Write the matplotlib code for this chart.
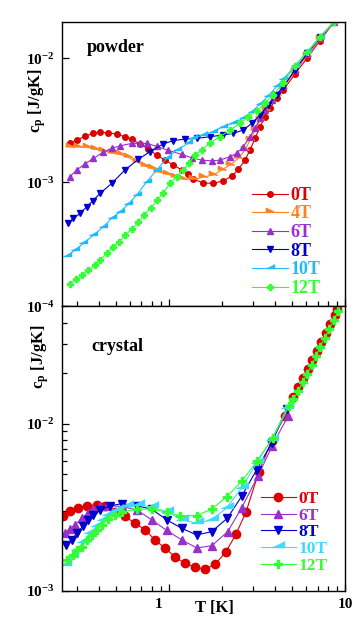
import matplotlib
matplotlib.use("Agg")
import matplotlib.pyplot as plt
from matplotlib.ticker import LogLocator, LogFormatterSciNotation, NullFormatter, FixedLocator
from matplotlib.transforms import ScaledTranslation

plt.rcParams['font.family'] = ['Liberation Serif', 'DejaVu Serif']
plt.rcParams['font.weight'] = 'bold'
plt.rcParams['mathtext.default'] = 'regular'

# ---------------- powder data ----------------
p0_T = [0.275,0.301,0.335,0.374,0.408,0.454,0.507,0.565,0.617,0.687,0.766,0.855,0.953,1.062,1.185,1.29,1.38,1.57,1.79,2.04,2.28,2.48,2.71,2.89,3.09,3.30,3.52,3.75,4.10,4.47,5.20,6.09,7.21,8.70]
p0_C = [2.06e-3,2.19e-3,2.36e-3,2.48e-3,2.53e-3,2.51e-3,2.45e-3,2.33e-3,2.22e-3,2.04e-3,1.85e-3,1.66e-3,1.51e-3,1.38e-3,1.26e-3,1.16e-3,1.06e-3,0.99e-3,0.98e-3,1.03e-3,1.12e-3,1.27e-3,1.51e-3,1.82e-3,2.26e-3,2.81e-3,3.38e-3,3.95e-3,4.76e-3,5.55e-3,7.43e-3,1.00e-2,1.38e-2,1.97e-2]

p4_T = [0.275,0.307,0.343,0.382,0.426,0.475,0.530,0.590,0.658,0.734,0.801,0.873,0.974,1.086,1.21,1.38,1.57,1.79,2.00,2.23,2.48,2.71,2.89,3.09,3.30,3.56,4.10,4.47,5.20,6.09,7.21,8.70]
p4_C = [1.94e-3,1.94e-3,1.92e-3,1.85e-3,1.80e-3,1.73e-3,1.68e-3,1.59e-3,1.47e-3,1.35e-3,1.30e-3,1.22e-3,1.17e-3,1.11e-3,1.06e-3,1.06e-3,1.10e-3,1.15e-3,1.26e-3,1.38e-3,1.56e-3,1.82e-3,2.19e-3,2.64e-3,3.18e-3,3.83e-3,5.01e-3,5.81e-3,7.76e-3,1.044e-2,1.419e-2,1.97e-2]

p6_T = [0.275,0.301,0.335,0.374,0.426,0.475,0.530,0.617,0.687,0.750,0.855,0.991,1.185,1.35,1.54,1.75,1.95,2.23,2.43,2.65,2.89,3.09,3.30,3.52,3.84,4.47,5.20,6.09,7.21,8.70]
p6_C = [1.11e-3,1.26e-3,1.41e-3,1.56e-3,1.75e-3,1.88e-3,1.97e-3,2.06e-3,2.06e-3,2.06e-3,1.95e-3,1.81e-3,1.68e-3,1.58e-3,1.51e-3,1.49e-3,1.51e-3,1.61e-3,1.71e-3,1.94e-3,2.33e-3,2.73e-3,3.28e-3,3.83e-3,4.61e-3,5.98e-3,7.97e-3,1.074e-2,1.445e-2,1.97e-2]

p8_T = [0.268,0.288,0.314,0.343,0.371,0.408,0.475,0.565,0.672,0.783,0.932,1.062,1.237,1.44,1.71,2.04,2.32,2.65,2.96,3.30,3.67,4.10,4.47,5.20,6.09,7.21,8.70]
p8_C = [4.67e-4,5.13e-4,5.62e-4,6.36e-4,7.11e-4,8.15e-4,9.82e-4,1.26e-3,1.53e-3,1.77e-3,2.04e-3,2.17e-3,2.23e-3,2.26e-3,2.33e-3,2.41e-3,2.48e-3,2.64e-3,2.99e-3,3.49e-3,4.20e-3,5.06e-3,5.87e-3,8.05e-3,1.093e-2,1.472e-2,1.97e-2]

p10_T = [0.264,0.294,0.328,0.374,0.426,0.475,0.530,0.590,0.658,0.750,0.855,0.974,1.11,1.29,1.38,1.57,1.79,2.04,2.32,2.65,2.96,3.30,3.67,4.10,4.47,5.20,6.09,7.21,8.70]
p10_C = [2.55e-4,2.85e-4,3.22e-4,3.76e-4,4.39e-4,5.13e-4,5.80e-4,6.68e-4,7.91e-4,1.01e-3,1.26e-3,1.56e-3,1.82e-3,2.06e-3,2.26e-3,2.41e-3,2.56e-3,2.81e-3,2.99e-3,3.28e-3,3.71e-3,4.28e-3,4.97e-3,5.93e-3,6.79e-3,8.67e-3,1.114e-2,1.462e-2,1.97e-2]

p12_T = [0.275,0.298,0.321,0.350,0.382,0.408,0.445,0.481,0.525,0.565,0.617,0.672,0.724,0.791,0.862,0.932,1.02,1.11,1.21,1.31,1.41,1.54,1.72,1.95,2.23,2.54,2.83,3.16,3.52,3.92,4.47,5.20,6.09,7.21,8.70]
p12_C = [1.53e-4,1.65e-4,1.79e-4,1.96e-4,2.16e-4,2.36e-4,2.68e-4,2.99e-4,3.32e-4,3.76e-4,4.18e-4,4.76e-4,5.45e-4,6.24e-4,7.20e-4,8.24e-4,9.82e-4,1.11e-3,1.26e-3,1.44e-3,1.66e-3,1.82e-3,2.08e-3,2.33e-3,2.64e-3,2.99e-3,3.38e-3,3.78e-3,4.34e-3,5.06e-3,6.37e-3,8.67e-3,1.124e-2,1.486e-2,1.97e-2]

# ---------------- crystal data ----------------
c0_T = [0.252,0.275,0.307,0.343,0.391,0.435,0.496,0.565,0.644,0.734,0.836,0.953,1.086,1.237,1.41,1.61,1.83,2.11,2.41,2.74,3.25,3.84,4.57,5.09,5.43,5.80,6.19,6.47,6.91,7.28,7.80,8.22,8.77,8.97]
c0_C = [2.79e-3,2.99e-3,3.13e-3,3.23e-3,3.27e-3,3.20e-3,2.96e-3,2.79e-3,2.54e-3,2.32e-3,2.02e-3,1.80e-3,1.60e-3,1.46e-3,1.39e-3,1.35e-3,1.44e-3,1.71e-3,2.19e-3,2.95e-3,5.16e-3,7.90e-3,1.116e-2,1.445e-2,1.649e-2,1.858e-2,2.104e-2,2.393e-2,2.711e-2,3.069e-2,3.463e-2,3.919e-2,4.433e-2,4.819e-2]

c6_T = [0.258,0.275,0.294,0.321,0.350,0.374,0.408,0.454,0.541,0.658,0.801,0.974,1.185,1.44,1.75,2.16,2.59,3.20,3.87,4.77]
c6_C = [2.21e-3,2.34e-3,2.48e-3,2.72e-3,2.92e-3,3.08e-3,3.20e-3,3.23e-3,3.20e-3,3.05e-3,2.66e-3,2.30e-3,2.02e-3,1.81e-3,1.86e-3,2.26e-3,3.13e-3,4.83e-3,7.38e-3,1.116e-2]

c8_T = [0.262,0.282,0.301,0.325,0.350,0.374,0.408,0.465,0.541,0.658,0.801,0.974,1.185,1.44,1.75,2.15,2.59,3.16,3.84,4.67]
c8_C = [1.89e-3,2.02e-3,2.22e-3,2.43e-3,2.66e-3,2.85e-3,3.03e-3,3.23e-3,3.32e-3,3.23e-3,3.08e-3,2.66e-3,2.37e-3,2.16e-3,2.26e-3,2.72e-3,3.67e-3,5.31e-3,7.66e-3,1.225e-2]

c10_T = [0.258,0.282,0.301,0.328,0.358,0.391,0.426,0.454,0.507,0.578,0.673,0.801,0.974,1.185,1.44,1.75,2.13,2.59,3.16,3.84,4.67]
c10_C = [1.43e-3,1.60e-3,1.76e-3,1.97e-3,2.22e-3,2.43e-3,2.66e-3,2.85e-3,3.05e-3,3.20e-3,3.27e-3,3.17e-3,2.98e-3,2.66e-3,2.54e-3,2.66e-3,3.13e-3,4.12e-3,5.82e-3,8.02e-3,1.23e-2]

c12_T = [0.264,0.285,0.303,0.321,0.343,0.366,0.391,0.417,0.454,0.496,0.541,0.658,0.801,0.974,1.159,1.44,1.75,2.13,2.59,3.16,3.89,4.83,5.09,5.43,5.75,6.06,6.47,6.85,7.21,7.70,8.15,8.66,9.16]
c12_C = [1.53e-3,1.64e-3,1.76e-3,1.84e-3,2.02e-3,2.16e-3,2.32e-3,2.48e-3,2.69e-3,2.85e-3,2.96e-3,3.08e-3,3.08e-3,2.96e-3,2.81e-3,2.82e-3,3.08e-3,3.64e-3,4.51e-3,5.94e-3,8.21e-3,1.27e-2,1.393e-2,1.56e-2,1.766e-2,1.963e-2,2.224e-2,2.528e-2,2.876e-2,3.258e-2,3.69e-2,4.156e-2,4.7e-2]

labels_powder = ['0T', '4T', '6T', '8T', '10T', '12T']
labels_crystal = ['0T', '6T', '8T', '10T', '12T']

RED = '#dd0000'; ORANGE = '#ff8020'; PURPLE = '#9a2fcc'; BLUE = '#0000cc'
CYAN = '#1ebcff'; CYAN2 = '#40d8ff'; GREEN = '#33ff33'
M_LOWRIGHT = [(-1, 0), (-1, 1), (1, 0)]   # right-angle on the left
M_HIGHRIGHT = [(-1, 0), (1, 0), (1, 1)]   # right-angle on the right

fig = plt.figure(figsize=(3.62, 6.34), dpi=100)
ax1 = fig.add_axes([0.1704, 0.5166, 0.7825, 0.4492])
ax2 = fig.add_axes([0.1704, 0.0678, 0.7825, 0.4488])

lw = 0.8
powder = [
    (p0_T, p0_C, RED, 'o', 4.0),
    (p4_T, p4_C, ORANGE, M_LOWRIGHT, 6.0),
    (p6_T, p6_C, PURPLE, '^', 4.2),
    (p8_T, p8_C, BLUE, 'v', 4.2),
    (p10_T, p10_C, CYAN, M_HIGHRIGHT, 6.0),
    (p12_T, p12_C, GREEN, 'P', 3.8),
]
for (T, C, col, mk, ms), lab in zip(powder, labels_powder):
    ax1.plot(T, C, color=col, marker=mk, ms=ms, lw=lw, mec=col, mfc=col, label=lab)

crystal = [
    (c0_T, c0_C, RED, 'o', 6.0),
    (c6_T, c6_C, PURPLE, '^', 6.2),
    (c8_T, c8_C, BLUE, 'v', 6.2),
    (c10_T, c10_C, CYAN2, M_HIGHRIGHT, 8.0),
    (c12_T, c12_C, GREEN, 'P', 5.6),
]
for (T, C, col, mk, ms), lab in zip(crystal, labels_crystal):
    ax2.plot(T, C, color=col, marker=mk, ms=ms, lw=lw, mec=col, mfc=col, label=lab)

for ax in (ax1, ax2):
    ax.set_xscale('log')
    ax.set_yscale('log')
    ax.set_xlim(0.247, 10)
    for sp in ax.spines.values():
        sp.set_linewidth(1.0)
    ax.tick_params(which='both', direction='in', top=False, right=False, width=0.9)
    ax.tick_params(which='major', length=5, labelsize=11, pad=5)
    ax.tick_params(which='minor', length=3.5)
    ax.xaxis.set_major_locator(FixedLocator([1, 10]))
    ax.xaxis.set_minor_locator(LogLocator(base=10, subs=range(2, 10), numticks=20))
    ax.xaxis.set_minor_formatter(NullFormatter())
    ax.yaxis.set_major_locator(LogLocator(base=10, numticks=10))
    ax.yaxis.set_major_formatter(LogFormatterSciNotation())

ax1.set_ylim(1e-4, 0.0197)
ax1.yaxis.set_minor_locator(FixedLocator([]))
ax1.tick_params(axis='x', which='both', labelbottom=False)
ax2.set_ylim(1e-3, 0.05)
ax2.yaxis.set_minor_locator(LogLocator(base=10, subs=range(2, 10), numticks=20))
ax2.yaxis.set_minor_formatter(NullFormatter())
ax2.set_xticklabels(['1', '10'])

for lab in ax1.get_yticklabels() + ax2.get_yticklabels() + ax2.get_xticklabels():
    lab.set_fontweight('bold')

# the "1" label sits a little left of its tick in the original
t1 = ax2.xaxis.get_major_ticks()[0].label1
t1.set_transform(t1.get_transform() + ScaledTranslation(-0.10, 0, fig.dpi_scale_trans))

ax1.text(0.19, 0.91, 'powder', transform=ax1.transAxes, ha='center', va='center',
         fontsize=13, fontweight='bold')
ax2.text(0.195, 0.86, 'crystal', transform=ax2.transAxes, ha='center', va='center',
         fontsize=13, fontweight='bold')

fig.text(37/362, 1-101/634, r'c$_{p}$ [J/gK]', rotation=90, ha='center', va='center',
         fontsize=12, fontweight='bold')
fig.text(40/362, 1-357/634, r'c$_{p}$ [J/gK]', rotation=90, ha='center', va='center',
         fontsize=12, fontweight='bold')
fig.text(214/362, 1-608/634, 'T [K]', ha='center', va='center', fontsize=12, fontweight='bold')

leg1 = ax1.legend(loc='upper left', bbox_to_anchor=(0.672, 0.42), frameon=False,
                  handlelength=2.0, handletextpad=0.15, labelspacing=0.09,
                  borderpad=0, borderaxespad=0, labelcolor='linecolor',
                  prop={'family': 'Liberation Serif', 'weight': 'bold', 'size': 13})
leg2 = ax2.legend(loc='upper left', bbox_to_anchor=(0.7035, 0.352), frameon=False,
                  handlelength=2.0, handletextpad=0.15, labelspacing=0.03,
                  borderpad=0, borderaxespad=0, labelcolor='linecolor',
                  prop={'family': 'Liberation Serif', 'weight': 'bold', 'size': 12.5})

fig.savefig('out.png', dpi=100)
